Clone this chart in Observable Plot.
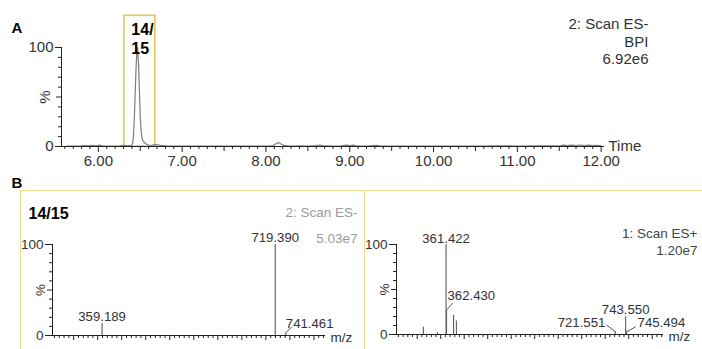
<!DOCTYPE html>
<html><head><meta charset="utf-8">
<script src="https://cdn.jsdelivr.net/npm/d3@7"></script>
<script src="https://cdn.jsdelivr.net/npm/@observablehq/plot@0.6"></script>
<style>
html,body{margin:0;padding:0;background:#fff;}
#root{position:relative;width:702px;height:349px;overflow:hidden;font-family:"Liberation Sans",Arial,sans-serif;}
#root svg{position:absolute;overflow:visible;}
#boxB{position:absolute;left:20px;top:190px;width:700px;height:200px;border:1.5px solid #f1dd8a;box-sizing:border-box;}
#divB{position:absolute;left:363.5px;top:190px;width:1.5px;height:170px;background:#f1dd8a;}
</style></head>
<body><div id="root"><div id="boxB"></div><div id="divB"></div></div>
<script>
// ---------- data ----------
const chromTime = [5.62,5.70,5.78,5.84,5.88,5.93,5.97,6.02,6.06,6.12,6.20,6.26,6.30,6.34,6.38,6.40,6.41,6.42,6.43,6.44,6.45,6.46,6.465,6.47,6.48,6.49,6.50,6.51,6.52,6.53,6.55,6.57,6.60,6.63,6.66,6.70,6.74,6.80,6.90,7.00,7.10,7.20,7.30,7.40,7.50,7.60,7.70,7.80,7.90,8.00,8.08,8.12,8.15,8.18,8.22,8.30,8.40,8.50,8.60,8.64,8.68,8.80,8.90,8.96,9.00,9.04,9.08,9.20,9.32,9.36,9.50,9.70,9.90,10.10,10.30,10.50,10.80,11.00,11.30,11.50,11.55,11.60,11.65,11.70,11.75,11.80,11.85,11.90,11.95,12.00];
const chromPct  = [0.3,0.4,0.3,1.0,0.6,1.1,0.7,1.3,0.5,0.4,0.5,0.6,1.2,0.7,0.8,1.5,4,12,30,55,80,96,100,97,82,55,30,16,9,6,4,2.5,1.5,1.0,1.6,1.8,1.2,0.6,0.4,0.3,0.3,0.4,0.5,0.4,0.4,0.3,0.4,0.5,0.5,0.4,0.6,2.8,4.0,2.5,0.8,0.5,0.6,0.5,0.8,1.5,0.8,0.5,0.6,1.3,1.0,1.4,0.7,0.5,1.2,0.6,0.5,0.4,0.5,0.4,0.5,0.5,0.6,0.5,0.6,0.7,1.4,0.8,1.3,0.9,1.5,0.9,1.4,0.8,1.2,0.6];
const timeTicks = [6,7,8,9,10,11,12];
const timeTickLabels = ["6.00","7.00","8.00","9.00","10.00","11.00","12.00"];
const pctTicks = [0,100];
const pctTickLabels = ["0","100"];
const selStart = 6.31, selEnd = 6.68;           // highlighted scan window 14/15
const negMz  = [359.189, 719.390, 741.461];
const negPct = [13, 100, 3];
const posMz  = [313.2, 343.3, 361.422, 362.430, 377.4, 383.4, 721.551, 743.550, 745.494];
const posPct = [8, 2, 100, 27, 21, 15, 3, 5, 3];

// ---------- helpers ----------
const FONT = '"Liberation Sans", Arial, sans-serif';
const root = document.getElementById("root");
function place(svg, left, top){ svg.style.left = left+"px"; svg.style.top = top+"px"; root.appendChild(svg); }
const blank = () => "";
const fmt3 = d => d.mz.toFixed(3);
const FS_B = 13.2;

// ---------- Panel A: chromatogram ----------
const tDomain = [5.56, 12.04];
const chrom = chromTime.map((t,i)=>({t, pct: chromPct[i]}));
const tenths = d3.range(56, 121).map(v=>v/10);
const tMinor = tenths.filter(v => Math.abs(v*2 - Math.round(v*2)) > 1e-6);
const tHalf = tenths.filter(v => Math.abs(v*2 - Math.round(v*2)) < 1e-6 && Math.abs(v - Math.round(v)) > 1e-6);
const pctMinor = [10,20,30,40,60,70,80,90];

const plotA = Plot.plot({
  width: 702, height: 175,
  marginLeft: 61, marginRight: 98, marginTop: 47, marginBottom: 29,
  x: {domain: tDomain, label: null},
  y: {domain: [0,100], label: null},
  style: {fontFamily: FONT, fontSize: "15px", color: "#222", background: "transparent"},
  marks: [
    Plot.rect([{t1: selStart, t2: selEnd}], {x1: "t1", x2: "t2", y1: 0, y2: 132, fill: "none", stroke: "#e4c94c", strokeWidth: 1.6}),
    Plot.line(chrom, {x: "t", y: "pct", stroke: "#7d7d7d", strokeWidth: 1.2}),
    Plot.ruleY([0], {stroke: "#222"}),
    Plot.ruleX([tDomain[0]], {y1: 0, y2: 100, stroke: "#222"}),
    Plot.axisX(tMinor, {tickSize: 3, tickFormat: blank, label: null}),
    Plot.axisX(tHalf, {tickSize: 5, tickFormat: blank, label: null}),
    Plot.axisX(timeTicks, {tickSize: 6, tickPadding: 3, tickFormat: (d,i)=>timeTickLabels[i], label: null, fontSize: 15, fill: "#333"}),
    Plot.axisY(pctMinor, {tickSize: 3, tickFormat: blank, label: null}),
    Plot.axisY([50], {tickSize: 5, tickFormat: blank, label: null}),
    Plot.axisY(pctTicks, {tickSize: 6, tickPadding: 2, tickFormat: (d,i)=>pctTickLabels[i], label: null, fontSize: 15, fill: "#333"}),
    Plot.text(["%"], {x: tDomain[0], y: 50, dx: -16, rotate: -90, fontSize: 15, fill: "#333"}),
    Plot.text(["Time"], {x: tDomain[1], y: 0, dx: 4, textAnchor: "start", fontSize: 15, fill: "#333"}),
    Plot.text(["2: Scan ES-\nBPI\n6.92e6"], {frameAnchor: "top-right", textAnchor: "end", lineAnchor: "top", lineHeight: 1.17, dx: 44, dy: -31, fontSize: 15, fill: "#333"}),
    Plot.text(["14/\n15"], {x: selStart, y: 132, dx: 7, dy: 6, textAnchor: "start", lineAnchor: "top", lineHeight: 1.19, fontWeight: "bold", fontSize: 16, fill: "#000"}),
    Plot.text(["A"], {frameAnchor: "top-left", textAnchor: "start", lineAnchor: "bottom", dx: -50, dy: -15, fontWeight: "bold", fontSize: 15, fill: "#000"})
  ]
});
place(plotA, 0, 0);

// ---------- Panel B: spectra ----------
const mzDomain = [256, 824];
const mzAll = d3.range(260, 821, 10);
const mzMinor = mzAll.filter(v => v % 50 !== 0);
const mzMid = mzAll.filter(v => v % 50 === 0);

function spectrumBase(peaks){
  return [
    Plot.ruleX(peaks, {x: "mz", y1: 0, y2: "pct", stroke: "#5a5a5a", strokeWidth: 1.1}),
    Plot.ruleY([0], {stroke: "#222"}),
    Plot.ruleX([mzDomain[0]], {y1: 0, y2: 100, stroke: "#222"}),
    Plot.axisX(mzMinor, {tickSize: 3, tickFormat: blank, label: null}),
    Plot.axisX(mzMid, {tickSize: 5, tickFormat: blank, label: null}),
    Plot.axisY(pctMinor, {tickSize: 3, tickFormat: blank, label: null}),
    Plot.axisY([50], {tickSize: 5, tickFormat: blank, label: null}),
    Plot.axisY(pctTicks, {tickSize: 7, tickPadding: 2, tickFormat: (d,i)=>pctTickLabels[i], label: null, fontSize: 13.5, fill: "#333"}),
    Plot.text(["%"], {x: mzDomain[0], y: 50, dx: -12, rotate: -90, fontSize: 13.5, fill: "#333"}),
    Plot.text(["m/z"], {x: mzDomain[1], y: 0, dx: 5, dy: 2, textAnchor: "start", fontSize: 13.5, fill: "#333"})
  ];
}

// left: negative mode
const negPeaks = negMz.map((mz,i)=>({mz, pct: negPct[i]}));
{
  const width = 364, ml = 52, mr = 39, mt = 69, mb = 14;
  const pxPerMz = (width-ml-mr)/(mzDomain[1]-mzDomain[0]);
  const pxPerPct = (174-mt-mb)/100;
  const lead = negPeaks.filter(d => d.mz === 741.461);
  const above = negPeaks.filter(d => d.mz !== 741.461);
  const plotL = Plot.plot({
    width, height: 174, marginLeft: ml, marginRight: mr, marginTop: mt, marginBottom: mb,
    x: {domain: mzDomain, label: null}, y: {domain: [0,100], label: null},
    style: {fontFamily: FONT, fontSize: "13.5px", color: "#222", background: "transparent"},
    marks: [
      ...spectrumBase(negPeaks),
      Plot.text(above, {x: "mz", y: "pct", text: fmt3, lineAnchor: "bottom", dy: -2.5, fontSize: FS_B, fill: "#333"}),
      Plot.link(lead, {x1: "mz", y1: "pct", x2: d => d.mz + 6/pxPerMz, y2: d => d.pct + 6/pxPerPct, stroke: "#555"}),
      Plot.text(lead, {x: "mz", y: "pct", text: fmt3, textAnchor: "start", lineAnchor: "bottom", dx: 0, dy: -5, fontSize: FS_B, fill: "#333"}),
      Plot.text(["14/15"], {frameAnchor: "top-left", textAnchor: "start", lineAnchor: "bottom", dx: -24, dy: -26, fontWeight: "bold", fontSize: 16, fill: "#000"}),
      Plot.text(["2: Scan ES-"], {frameAnchor: "top-right", textAnchor: "end", lineAnchor: "bottom", dx: 32, dy: -28, fontSize: 13.5, fill: "#9a9a9a"}),
      Plot.text(["5.03e7"], {frameAnchor: "top-right", textAnchor: "end", lineAnchor: "bottom", dx: 32, dy: -2, fontSize: 13.5, fill: "#9a9a9a"}),
      Plot.text(["B"], {frameAnchor: "top-left", textAnchor: "start", lineAnchor: "bottom", dx: -41, dy: -57, fontWeight: "bold", fontSize: 15, fill: "#000"})
    ]
  });
  place(plotL, 0, 175);
}

// right: positive mode
const posPeaks = posMz.map((mz,i)=>({mz, pct: posPct[i]}));
{
  const width = 338, ml = 32, mr = 39, mt = 69, mb = 15;
  const pxPerMz = (width-ml-mr)/(mzDomain[1]-mzDomain[0]);
  const pxPerPct = (174-mt-mb)/100;
  const pick = m => posPeaks.filter(d => d.mz === m);
  const plotR = Plot.plot({
    width, height: 174, marginLeft: ml, marginRight: mr, marginTop: mt, marginBottom: mb,
    x: {domain: mzDomain, label: null}, y: {domain: [0,100], label: null},
    style: {fontFamily: FONT, fontSize: "13.5px", color: "#222", background: "transparent"},
    marks: [
      ...spectrumBase(posPeaks),
      // 361.422 above
      Plot.text(pick(361.422), {x: "mz", y: "pct", text: fmt3, lineAnchor: "bottom", dy: -2, fontSize: FS_B, fill: "#333"}),
      // 362.430 up-right leader
      Plot.link(pick(362.430), {x1: "mz", y1: "pct", x2: d => d.mz + 6/pxPerMz, y2: d => d.pct + 7/pxPerPct, stroke: "#555"}),
      Plot.text(pick(362.430), {x: "mz", y: "pct", text: fmt3, textAnchor: "start", lineAnchor: "bottom", dx: 1, dy: -10, fontSize: FS_B, fill: "#333"}),
      // 743.550 vertical leader
      Plot.link(pick(743.550), {x1: "mz", y1: "pct", x2: "mz", y2: d => d.pct + 14/pxPerPct, stroke: "#555"}),
      Plot.text(pick(743.550), {x: "mz", y: "pct", text: fmt3, lineAnchor: "bottom", dy: -16.5, fontSize: FS_B, fill: "#333"}),
      // 721.551 up-left leader
      Plot.link(pick(721.551), {x1: "mz", y1: "pct", x2: d => d.mz - 9/pxPerMz, y2: d => d.pct + 7/pxPerPct, stroke: "#555"}),
      Plot.text(pick(721.551), {x: "mz", y: "pct", text: fmt3, textAnchor: "end", lineAnchor: "bottom", dx: -10, dy: -4.5, fontSize: FS_B, fill: "#333"}),
      // 745.494 up-right leader
      Plot.link(pick(745.494), {x1: "mz", y1: "pct", x2: d => d.mz + 9/pxPerMz, y2: d => d.pct + 5/pxPerPct, stroke: "#555"}),
      Plot.text(pick(745.494), {x: "mz", y: "pct", text: fmt3, textAnchor: "start", lineAnchor: "bottom", dx: 11, dy: -4.5, fontSize: FS_B, fill: "#333"}),
      Plot.text(["1: Scan ES+\n1.20e7"], {frameAnchor: "top-right", textAnchor: "end", lineAnchor: "top", lineHeight: 1.26, dx: 34, dy: -19, fontSize: 13.5, fill: "#444"})
    ]
  });
  place(plotR, 364, 175);
}
</script>
</body></html>
